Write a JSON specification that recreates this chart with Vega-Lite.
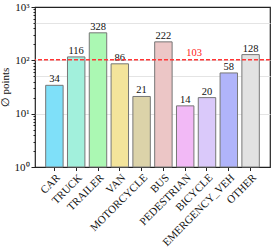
{
  "$schema": "https://vega.github.io/schema/vega-lite/v6.json",
  "width": 235,
  "height": 160,
  "autosize": {"type": "none"},
  "padding": {"left": 35, "top": 7, "right": 4, "bottom": 80},
  "config": {
    "view": {"stroke": "#222222", "strokeWidth": 1.2},
    "font": "Liberation Serif",
    "axis": {"labelFont": "Liberation Serif", "titleFont": "Liberation Serif", "domain": false, "tickColor": "#222222", "labelColor": "#111111", "titleColor": "#111111"}
  },
  "data": {
    "values": [
      {"cls": "CAR", "pts": 34},
      {"cls": "TRUCK", "pts": 116},
      {"cls": "TRAILER", "pts": 328},
      {"cls": "VAN", "pts": 86},
      {"cls": "MOTORCYCLE", "pts": 21},
      {"cls": "BUS", "pts": 222},
      {"cls": "PEDESTRIAN", "pts": 14},
      {"cls": "BICYCLE", "pts": 20},
      {"cls": "EMERGENCY_VEH", "pts": 58},
      {"cls": "OTHER", "pts": 128}
    ]
  },
  "layer": [
    {
      "mark": {"type": "point", "opacity": 0},
      "encoding": {
        "x": {"field": "cls", "type": "nominal", "sort": null, "scale": {"paddingInner": 0.2, "paddingOuter": 0.49}},
        "y": {
          "field": "pts",
          "type": "quantitative",
          "scale": {"type": "log", "domain": [1, 1000]},
          "axis": {
            "orient": "left",
            "values": [10, 50, 100, 500],
            "grid": true,
            "gridColor": "#e4e4e4",
            "gridWidth": 1,
            "ticks": false,
            "labels": false,
            "title": null
          }
        }
      }
    },
    {
      "mark": {"type": "bar", "stroke": "#777777", "strokeWidth": 1},
      "encoding": {
        "x": {
          "field": "cls",
          "type": "nominal",
          "sort": null,
          "scale": {"paddingInner": 0.2, "paddingOuter": 0.49},
          "axis": {
            "title": null,
            "labelAngle": -45,
            "labelAlign": "right",
            "labelBaseline": "top",
            "labelFontSize": 11,
            "labelPadding": 1,
            "labelOverlap": false,
            "labelColor": "#111111",
            "tickSize": 3.5,
            "grid": false
          }
        },
        "y": {
          "field": "pts",
          "type": "quantitative",
          "scale": {"type": "log", "domain": [1, 1000]},
          "axis": {
            "orient": "left",
            "values": [1, 10, 100, 1000],
            "labelExpr": "datum.value == 1 ? '10⁰' : datum.value == 10 ? '10¹' : datum.value == 100 ? '10²' : '10³'",
            "labelFontSize": 11,
            "labelPadding": 2,
            "tickSize": 4,
            "grid": false,
            "title": "∅ points",
            "titleFontSize": 11,
            "titleFontWeight": "normal",
            "titlePadding": 4
          }
        },
        "y2": {"datum": 1},
        "color": {
          "field": "cls",
          "type": "nominal",
          "legend": null,
          "scale": {
            "domain": ["CAR", "TRUCK", "TRAILER", "VAN", "MOTORCYCLE", "BUS", "PEDESTRIAN", "BICYCLE", "EMERGENCY_VEH", "OTHER"],
            "range": ["#7fe0f9", "#a2f0dc", "#abf8b3", "#f3e49b", "#dcd3a9", "#ecc6c6", "#f2b9f6", "#dac9fa", "#b0b4fa", "#e2e2e2"]
          }
        }
      }
    },
    {
      "mark": {"type": "text", "dy": -3, "baseline": "alphabetic", "fontSize": 10.5, "color": "#111111"},
      "encoding": {
        "x": {"field": "cls", "type": "nominal", "sort": null, "scale": {"paddingInner": 0.2, "paddingOuter": 0.49}},
        "y": {
          "field": "pts",
          "type": "quantitative",
          "scale": {"type": "log", "domain": [1, 1000]},
          "axis": {
            "orient": "left",
            "values": [2, 3, 4, 5, 6, 7, 8, 9, 20, 30, 40, 50, 60, 70, 80, 90, 200, 300, 400, 500, 600, 700, 800, 900],
            "tickSize": 2,
            "labels": false,
            "grid": false,
            "title": null
          }
        },
        "text": {"field": "pts", "type": "quantitative"}
      }
    },
    {
      "transform": [{"aggregate": [{"op": "mean", "field": "pts", "as": "avg"}]}],
      "mark": {"type": "rule", "color": "#ff3535", "strokeDash": [4, 2], "strokeWidth": 1.6},
      "encoding": {
        "y": {"field": "avg", "type": "quantitative", "scale": {"type": "log", "domain": [1, 1000]}, "axis": null}
      }
    },
    {
      "transform": [{"aggregate": [{"op": "mean", "field": "pts", "as": "avg"}]}],
      "mark": {"type": "text", "color": "#ff2020", "fontSize": 10.5, "dx": 9, "dy": -4, "baseline": "alphabetic"},
      "encoding": {
        "x": {"datum": "PEDESTRIAN"},
        "y": {"field": "avg", "type": "quantitative", "scale": {"type": "log", "domain": [1, 1000]}, "axis": null},
        "text": {"field": "avg", "type": "quantitative", "format": ".0f"}
      }
    }
  ],
  "resolve": {"axis": {"y": "independent"}}
}
